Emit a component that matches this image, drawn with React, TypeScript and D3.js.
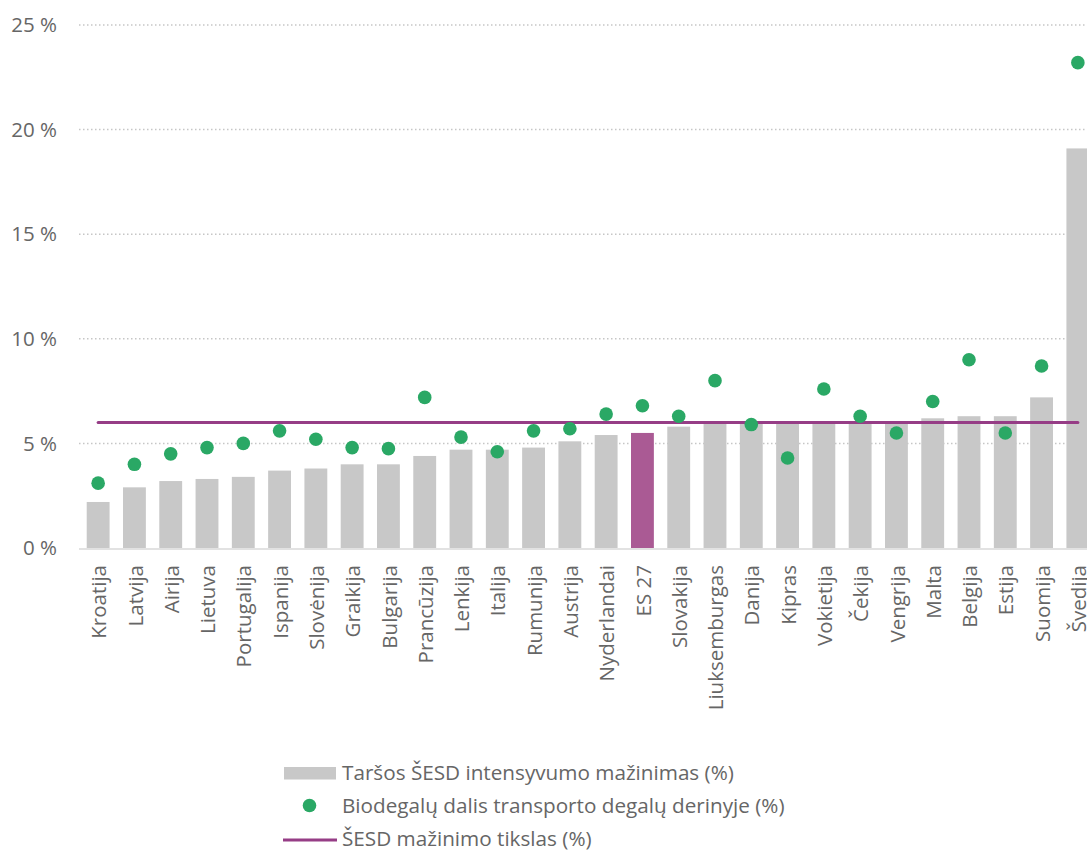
import React from "react";
import * as d3 from "d3";

const categories = ["Kroatija","Latvija","Airija","Lietuva","Portugalija","Ispanija","Slovėnija","Graikija","Bulgarija","Prancūzija","Lenkija","Italija","Rumunija","Austrija","Nyderlandai","ES 27","Slovakija","Liuksemburgas","Danija","Kipras","Vokietija","Čekija","Vengrija","Malta","Belgija","Estija","Suomija","Švedija"];
const intensityReduction = [2.2,2.9,3.2,3.3,3.4,3.7,3.8,4.0,4.0,4.4,4.7,4.7,4.8,5.1,5.4,5.5,5.8,6.0,6.0,6.0,6.0,6.0,6.0,6.2,6.3,6.3,7.2,19.1];
const biofuelShare = [3.1,4.0,4.5,4.8,5.0,5.6,5.2,4.8,4.75,7.2,5.3,4.6,5.6,5.7,6.4,6.8,6.3,8.0,5.9,4.3,7.6,6.3,5.5,7.0,9.0,5.5,8.7,23.2];
const target = 6;
const yTicks = [0,5,10,15,20,25];
const highlight = "ES 27";
const legendLabels = ["Taršos ŠESD intensyvumo mažinimas (%)","Biodegalų dalis transporto degalų derinyje (%)","ŠESD mažinimo tikslas (%)"];

const W = 1087, H = 853;
const FONT = "'Open Sans', sans-serif";
const TEXT = "#666666";
const BAR = "#c8c8c8";
const HL = "#aa5a94";
const LINE = "#963d86";
const DOT = "#2aa865";

export default function App() {
  React.useEffect(() => { document.body.style.margin = "0"; }, []);
  const x = d3.scaleBand<string>().domain(categories).range([80, 1096]).paddingInner(0.37).paddingOuter(0.185);
  const y = d3.scaleLinear().domain([0, 25]).range([548, 25]);
  const bw = x.bandwidth();
  const cx = (c: string) => (x(c) as number) + bw / 2;
  const first = categories[0], last = categories[categories.length - 1];
  return (
    <svg width={W} height={H} style={{ display: "block", fontFamily: FONT }}>
      {yTicks.map(t => (
        <g key={t}>
          {t > 0 && <line x1={79} x2={W} y1={y(t)} y2={y(t)} stroke="#c6c6c6" strokeWidth={1.5} strokeDasharray="1.5,2.5" />}
          <text x={57} y={y(t)} dy="0.35em" textAnchor="end" fontSize={20.5} fill={TEXT}>{t} %</text>
        </g>
      ))}
      {categories.map((c, i) => (
        <rect key={c} x={x(c)} width={bw} y={y(intensityReduction[i])} height={y(0) - y(intensityReduction[i])} fill={c === highlight ? HL : BAR} />
      ))}
      <line x1={79} x2={W} y1={549} y2={549} stroke="#d9d9d9" strokeWidth={1.5} />
      <line x1={cx(first)} x2={cx(last)} y1={y(target)} y2={y(target)} stroke={LINE} strokeWidth={3} strokeLinecap="round" />
      {categories.map((c, i) => (
        <circle key={c} cx={cx(c)} cy={y(biofuelShare[i])} r={6.8} fill={DOT} />
      ))}
      {categories.map(c => (
        <text key={c} transform={`translate(${cx(c) + 1},565) rotate(-90)`} dy="0.35em" textAnchor="end" fontSize={20.5} fill={TEXT}>{c}</text>
      ))}
      <g>
        <rect x={284} y={767} width={52} height={12.5} fill={BAR} />
        <text x={342} y={773} dy="0.35em" fontSize={20.7} fill={TEXT}>{legendLabels[0]}</text>
        <circle cx={309.5} cy={805.5} r={6.8} fill={DOT} />
        <text x={342} y={806} dy="0.35em" fontSize={20.7} fill={TEXT}>{legendLabels[1]}</text>
        <line x1={283} x2={337} y1={840} y2={840} stroke={LINE} strokeWidth={3} />
        <text x={342} y={839} dy="0.35em" fontSize={20.7} fill={TEXT}>{legendLabels[2]}</text>
      </g>
    </svg>
  );
}
